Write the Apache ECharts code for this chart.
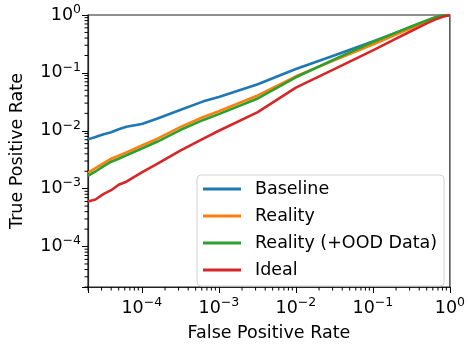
<!DOCTYPE html>
<html>
<head>
<meta charset="utf-8">
<script src="https://cdn.jsdelivr.net/npm/echarts@6/dist/echarts.min.js"></script>
<style>
  html, body { margin: 0; padding: 0; background: #fff; }
  #chart { width: 468px; height: 347px; }
</style>
</head>
<body>
<div id="chart"></div>
<script>
// false positive rate (x) shared by all curves
const fpr = [2e-5, 2.5e-5, 3.2e-5, 4e-5, 5e-5, 6.3e-5, 1e-4, 1.6e-4, 3.2e-4, 6.3e-4, 1e-3,
             3.2e-3, 0.01, 0.032, 0.1, 0.2, 0.32, 0.5, 0.63, 0.79, 1];

// true positive rate per curve
const tprBaseline = [0.0071, 0.0078, 0.0087, 0.0094, 0.0106, 0.0117, 0.0131, 0.0163, 0.023, 0.0322, 0.0384,
                     0.0638, 0.117, 0.202, 0.349, 0.496, 0.627, 0.791, 0.89, 0.962, 1];
const tprReality = [0.0019, 0.00227, 0.00276, 0.00329, 0.0037, 0.00424, 0.00557, 0.00732, 0.0117, 0.0173, 0.0218,
                    0.0408, 0.0873, 0.166, 0.31, 0.458, 0.602, 0.776, 0.89, 0.962, 1];
const tprRealityOod = [0.00166, 0.00198, 0.00245, 0.00292, 0.00329, 0.00377, 0.00495, 0.00651, 0.0104, 0.0154, 0.0194,
                       0.0362, 0.0839, 0.173, 0.342, 0.496, 0.638, 0.807, 0.907, 0.98, 1];
const tprIdeal = [0.0006, 0.00065, 0.00081, 0.00094, 0.00117, 0.00132, 0.00191, 0.00271, 0.00458, 0.00732, 0.01,
                  0.021, 0.0557, 0.117, 0.245, 0.392, 0.535, 0.718, 0.823, 0.925, 1];

const seriesNames = ['Baseline', 'Reality', 'Reality (+OOD Data)', 'Ideal'];
const seriesColors = ['#1f77b4', '#ff7f0e', '#2ca02c', '#d62728'];
const seriesValues = [tprBaseline, tprReality, tprRealityOod, tprIdeal];

const axisMin = 2e-5;
const axisMax = 1;

// minor tick positions (2..9 x 10^k) inside the axis range
const minorTicks = [];
for (let k = -5; k < 0; k++) {
    for (let m = 2; m <= 9; m++) {
        const v = m * Math.pow(10, k);
        if (v >= axisMin - 1e-12 && v < axisMax) minorTicks.push(v);
    }
}

const font = 'DejaVu Sans';
const fs = 17.5;

function powLabel(v) {
    const e = Math.log10(v);
    const r = Math.round(e);
    if (Math.abs(e - r) > 1e-6) return '';
    const exp = r < 0 ? '\u2212' + (-r) : String(r);
    return '{b|10}{s|' + exp + '}';
}

const labelRich = {
    b: { fontSize: fs, fontFamily: font, color: '#000' },
    s: { fontSize: 12.5, fontFamily: font, color: '#000', padding: [0, 0, 11, 0] }
};

const chart = echarts.init(document.getElementById('chart'));

const lineSeries = seriesNames.map((name, i) => ({
    name: name,
    type: 'line',
    data: fpr.map((x, j) => [x, seriesValues[i][j]]),
    showSymbol: false,
    symbol: 'none',
    lineStyle: { width: 2.6, color: seriesColors[i] },
    itemStyle: { color: seriesColors[i] },
    z: 3 + i
}));

// matplotlib-like minor ticks, drawn through the axis scale
const minorX = {
    type: 'custom',
    silent: true,
    clip: false,
    data: minorTicks.map(v => [v, axisMin]),
    renderItem: function (params, api) {
        const p = api.coord([api.value(0), axisMin]);
        return {
            type: 'line',
            shape: { x1: p[0], y1: p[1], x2: p[0], y2: p[1] + 3.5 },
            style: { stroke: '#000', lineWidth: 1 }
        };
    },
    z: 10
};
const minorY = {
    type: 'custom',
    silent: true,
    clip: false,
    data: minorTicks.map(v => [axisMin, v]),
    renderItem: function (params, api) {
        const p = api.coord([axisMin, api.value(1)]);
        return {
            type: 'line',
            shape: { x1: p[0] - 3.5, y1: p[1], x2: p[0], y2: p[1] },
            style: { stroke: '#000', lineWidth: 1 }
        };
    },
    z: 10
};

chart.setOption({
    animation: false,
    grid: {
        left: 88, right: 15, top: 15, bottom: 55,
        show: true, borderColor: '#222', borderWidth: 1.2, backgroundColor: 'transparent'
    },
    legend: {
        data: seriesNames,
        orient: 'vertical',
        left: 197,
        top: 175,
        padding: [5, 7, 7, 6],
        itemGap: 9,
        itemWidth: 38,
        itemHeight: 3,
        icon: 'rect',
        backgroundColor: '#fff',
        borderColor: '#d0d0d0',
        borderWidth: 1,
        borderRadius: 4,
        textStyle: { fontSize: fs, fontFamily: font, color: '#000', lineHeight: 17, padding: [0, 0, 0, 9] }
    },
    xAxis: {
        type: 'log',
        logBase: 10,
        min: axisMin,
        max: axisMax,
        name: 'False Positive Rate',
        nameLocation: 'middle',
        nameGap: 37,
        nameTextStyle: { fontSize: fs, fontFamily: font, color: '#000' },
        axisLine: { show: true, lineStyle: { color: '#222', width: 1.2 } },
        axisTick: { show: true, length: 6, lineStyle: { color: '#000', width: 1 } },
        axisLabel: { interval: 0, margin: 9, formatter: powLabel, rich: labelRich },
        splitLine: { show: false },
        minorTick: { show: false }
    },
    yAxis: {
        type: 'log',
        logBase: 10,
        min: axisMin,
        max: axisMax,
        name: 'True Positive Rate',
        nameLocation: 'middle',
        nameGap: 62,
        nameRotate: 90,
        nameTextStyle: { fontSize: fs, fontFamily: font, color: '#000' },
        axisLine: { show: true, lineStyle: { color: '#222', width: 1.2 } },
        axisTick: { show: true, length: 6, lineStyle: { color: '#000', width: 1 } },
        axisLabel: { interval: 0, margin: 7, formatter: powLabel, rich: labelRich },
        splitLine: { show: false },
        minorTick: { show: false }
    },
    series: lineSeries.concat([minorX, minorY])
});
</script>
</body>
</html>
